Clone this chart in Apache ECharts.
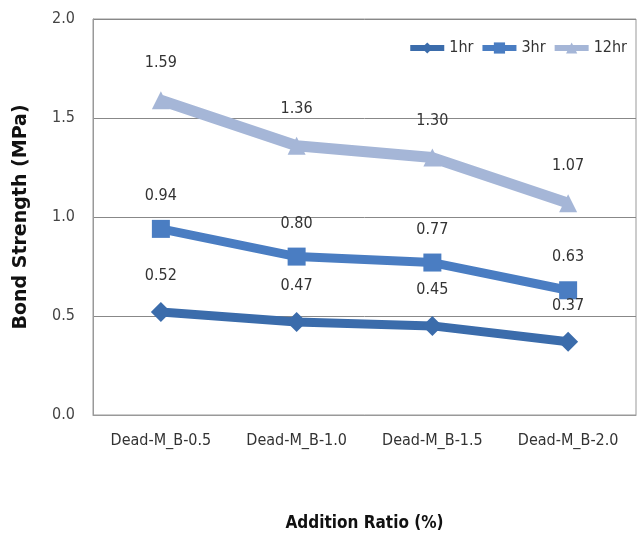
<!DOCTYPE html>
<html>
<head>
<meta charset="utf-8">
<script src="https://cdn.jsdelivr.net/npm/echarts@6/dist/echarts.min.js"></script>
<style>
  html, body { margin: 0; padding: 0; background: #fff; }
  #chart { width: 640px; height: 547px; }
</style>
</head>
<body>
<div id="chart"></div>
<script>
// values
var categories = ['Dead-M_B-0.5', 'Dead-M_B-1.0', 'Dead-M_B-1.5', 'Dead-M_B-2.0']
var hr1 = [0.52, 0.47, 0.45, 0.37]
var hr3 = [0.94, 0.80, 0.77, 0.63]
var hr12 = [1.59, 1.36, 1.30, 1.07]
var yTicks = ['0.0', '0.5', '1.0', '1.5', '2.0']

var tickFont = '"Liberation Sans Narrow", "DejaVu Sans Condensed", sans-serif'

function lineSeries (name, data, color, symbol, size, width, dist) {
  return {
    name: name,
    type: 'line',
    data: data,
    symbol: symbol,
    symbolSize: size,
    color: color,
    lineStyle: { width: width, color: color },
    itemStyle: { color: color },
    label: {
      show: true,
      position: 'top',
      distance: dist,
      color: '#333',
      fontFamily: tickFont,
      fontSize: 16,
      formatter: function (p) { return p.value.toFixed(2) }
    },
    z: 3
  }
}

var option = {
  backgroundColor: '#fff',
  animation: false,
  grid: {
    left: 93,
    right: 4,
    top: 19,
    bottom: 132,
    show: true,
    borderColor: '#999',
    borderWidth: 1
  },
  legend: {
    right: 8,
    top: 35,
    itemGap: 6,
    itemWidth: 34,
    itemHeight: 14,
    lineStyle: { width: 6 },
    textStyle: { fontFamily: tickFont, fontSize: 16, color: '#333' },
    data: ['1hr', '3hr', '12hr']
  },
  xAxis: {
    type: 'category',
    data: categories,
    name: 'Addition Ratio (%)',
    nameLocation: 'middle',
    nameGap: 100,
    nameTextStyle: { fontFamily: tickFont, fontSize: 17, fontWeight: 'bold', color: '#111' },
    axisLine: { lineStyle: { color: '#999' } },
    axisTick: { show: false },
    axisLabel: { fontFamily: tickFont, fontSize: 16, color: '#333', margin: 18 }
  },
  yAxis: {
    type: 'value',
    min: 0,
    max: 2,
    interval: 0.5,
    name: 'Bond Strength (MPa)',
    nameLocation: 'middle',
    nameGap: 62,
    nameTextStyle: { fontFamily: '"DejaVu Sans", sans-serif', fontSize: 19, fontWeight: 'bold', color: '#111' },
    axisLine: { show: true, lineStyle: { color: '#999' } },
    axisTick: { show: false },
    splitLine: { lineStyle: { color: '#888' } },
    axisLabel: {
      fontFamily: tickFont,
      fontSize: 16,
      color: '#444',
      margin: 18,
      formatter: function (v) { return yTicks[Math.round(v / 0.5)] }
    }
  },
  series: [
    lineSeries('1hr', hr1, '#3b6cab', 'diamond', 20, 9, 18),
    lineSeries('3hr', hr3, '#4a7dc2', 'rect', 18, 9, 16),
    lineSeries('12hr', hr12, '#a5b6d7', 'triangle', 18, 11, 20)
  ]
}

var chart = echarts.init(document.getElementById('chart'))
chart.setOption(option)
</script>
</body>
</html>
